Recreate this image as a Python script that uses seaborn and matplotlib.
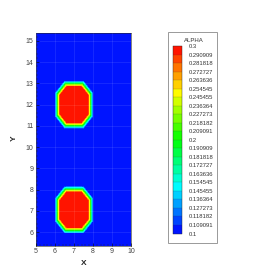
import numpy as np
import matplotlib.pyplot as plt
import matplotlib.ticker as mtick
from matplotlib.patches import Rectangle
import seaborn as sns

# blobs of ALPHA = 0.3 sitting in a 0.1 background
blob_cx = [7.0, 7.0]
blob_cy = [12.0, 7.05]
blob_rx = [0.99, 0.99]
blob_ry = [1.12, 1.10]
alpha_in = 0.3
alpha_out = 0.1
ramp_width = 0.27     # fraction of the radius over which alpha goes 0.3 -> 0.1
corner_cut = 1.5      # octagonal shape of the cells

x_range = [5.0, 10.0]
y_range = [5.36, 15.36]
x_ticks = [5, 6, 7, 8, 9, 10]
y_ticks = [6, 7, 8, 9, 10, 11, 12, 13, 14, 15]
levels = np.linspace(0.1, 0.3, 23)
level_colors = ['#0000ff', '#00ffff', '#00ff00', '#ffff00', '#ff0000']

sns.set_style('ticks')
plt.rcParams['font.family'] = ['Liberation Sans', 'DejaVu Sans']

xs = np.linspace(x_range[0], x_range[1], 301)
ys = np.linspace(y_range[0], y_range[1], 601)
X, Y = np.meshgrid(xs, ys)
Z = np.full(X.shape, alpha_out)
for cx, cy, rx, ry in zip(blob_cx, blob_cy, blob_rx, blob_ry):
    u = np.abs(X - cx) / rx
    v = np.abs(Y - cy) / ry
    d = np.maximum(np.maximum(u, v), (u + v) / corner_cut)
    t = np.clip((1 - d) / ramp_width, 0, 1)
    Z = np.maximum(Z, alpha_out + (alpha_in - alpha_out) * t)

cmap = sns.blend_palette(level_colors, as_cmap=True)

fig = plt.figure(figsize=(2.77, 2.77), dpi=100)
fig.set_facecolor('white')
ax = fig.add_axes([0.130, 0.113, 0.343, 0.767])
cs = ax.contourf(X, Y, Z, levels=levels, cmap=cmap)
ax.set_xlim(x_range)
ax.set_ylim(y_range)
ax.set_xticks(x_ticks)
ax.set_yticks(y_ticks)
ax.xaxis.set_minor_locator(mtick.MultipleLocator(0.2))
ax.yaxis.set_minor_locator(mtick.MultipleLocator(0.2))
ax.tick_params(which='major', direction='in', length=2.5, width=0.4,
               labelsize=5, pad=2, colors='black')
ax.tick_params(which='minor', direction='in', length=1.2, width=0.3)
ax.tick_params(axis='y', labelcolor='#444444')
ax.tick_params(axis='x', labelcolor='#444444')
ax.grid(True, color='white', alpha=0.12, lw=0.5)
ax.set_axisbelow(False)
for s in ax.spines.values():
    s.set_linewidth(0.4)
ax.set_xlabel('X', fontweight='bold', fontsize=6)
ax.set_ylabel('Y', fontweight='bold', fontsize=6)
ax.xaxis.set_label_coords(0.498, -0.067)
ax.yaxis.set_label_coords(-0.19, 0.507)

# legend box
fig.add_artist(Rectangle((168 / 277, 1 - 242.7 / 277), 49 / 277, 210.4 / 277,
                         transform=fig.transFigure, fill=False,
                         edgecolor='#999999', lw=0.7))
fig.text(194 / 277, 1 - 41 / 277, 'ALPHA', ha='center', va='center',
         fontsize=4.3, color='#333333')

cax = fig.add_axes([172.7 / 277, 1 - 233.5 / 277, 9 / 277, 187.5 / 277])
cbar = fig.colorbar(cs, cax=cax, extend='max', extendrect=True,
                    extendfrac=4 / 183.5, drawedges=True)
cbar.set_ticks(levels)
cbar.set_ticklabels([f"{v:.6g}" for v in levels])
cbar.ax.tick_params(length=0, labelsize=4.2, pad=5, labelcolor='#333333')
cbar.outline.set_linewidth(0.3)
cbar.dividers.set_color('#333333')
cbar.dividers.set_linewidth(0.25)
cbar.dividers.set_alpha(0.5)

fig.savefig('out.png', dpi=100)
